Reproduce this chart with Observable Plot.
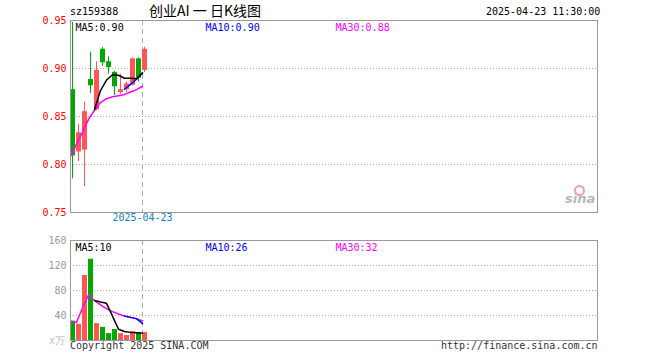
<!DOCTYPE html>
<html><head><meta charset="utf-8">
<script src="https://cdn.jsdelivr.net/npm/d3@7"></script>
<script src="https://cdn.jsdelivr.net/npm/@observablehq/plot@0.6"></script>
<style>
body{margin:0;background:#fff;}
#wrap{position:relative;width:660px;height:360px;overflow:hidden;font-family:"DejaVu Sans Mono",monospace;font-size:10px;background:#fff;}
.abs{position:absolute;white-space:nowrap;line-height:1;}
#main{position:absolute;left:0;top:0;}
#vol{position:absolute;left:0;top:230px;}
</style></head><body><div id="wrap"><div id="main"></div><div id="vol"></div></div>
<script>
// ---- data ----
const code = "sz159388";
const title = "创业AI 一 日K线图";
const stamp = "2025-04-23 11:30:00";
const dateLabel = "2025-04-23";
const dateIndex = 12;
const copyright = "Copyright 2025 SINA.COM";
const url = "http://finance.sina.com.cn";
const volUnit = "x万";

const open  = [0.878, 0.813, 0.815, 0.8885, 0.857, 0.920, 0.907, 0.896, 0.875, 0.878, 0.8826, 0.910, 0.898];
const close = [0.809, 0.833, 0.855, 0.882, 0.898, 0.906, 0.901, 0.881, 0.878, 0.884, 0.910, 0.890, 0.920];
const high  = [0.948, 0.842, 0.865, 0.917, 0.907, 0.922, 0.912, 0.897, 0.894, 0.886, 0.911, 0.911, 0.922];
const low   = [0.785, 0.803, 0.777, 0.874, 0.856, 0.902, 0.894, 0.872, 0.873, 0.875, 0.882, 0.886, 0.896];

const ma5  = [null, null, null, null, 0.857, 0.877, 0.888, 0.8935, 0.893, 0.8898, 0.8898, 0.8893, 0.8955];
const ma10 = [null, null, null, null, null, null, null, null, null, 0.8784, 0.8835, 0.8888, 0.895];
const ma30 = [0.8085, 0.8215, 0.8335, 0.847, 0.8565, 0.8645, 0.8685, 0.8705, 0.8715, 0.873, 0.8755, 0.878, 0.8815];

const volume  = [31, 26, 104, 130, 27, 21, 11, 17.6, 11, 8, 14.4, 12.8, 12.8];
const volMa5  = [null, null, null, null, 64, 61.5, 59.5, 39, 18, 14.5, 13, 12.5, 11.8];
const volMa10 = [null, null, null, null, null, null, null, null, null, 39, 37, 35, 27];
const volMa30 = [30.8, 29, 52, 72.5, 64, 57, 51, 46.2, 42.5, 39.2, 37, 34.6, 31.5];

const priceTicks = [0.75, 0.80, 0.85, 0.90, 0.95];
const priceGrid  = [0.80, 0.85, 0.90];
const volTicks = [40, 80, 120, 160];
const volGrid  = [40, 80, 120];

const mainLegend = ["MA5:0.90", "MA10:0.90", "MA30:0.88"];
const volLegend  = ["MA5:10", "MA10:26", "MA30:32"];

// ---- styles ----
const RED = "#ff5555", GREEN = "#00a800";
const lineColors = ["#000000", "#0000ff", "#ff00ff"];
const W = 660, ML = 70, MR = 63, SLOT = 6, BODY = 5;
const xDomain = [0, (W - ML - MR) / SLOT];
const font = {fontFamily: "DejaVu Sans Mono, monospace", fontSize: "10px", background: "transparent", overflow: "visible"};

const rows = open.map((o, i) => ({i, open: o, close: close[i], high: high[i], low: low[i], vol: volume[i], up: close[i] >= o}));
const series = (arr) => arr.map((v, i) => ({i, v}));
const colorOf = d => d.up ? RED : GREEN;

const legendMarks = (labels) => labels.map((t, k) =>
  Plot.text([t], {text: d => d, frameAnchor: "top-left", textAnchor: "start", dx: 5 + 130 * k, dy: 3, fill: lineColors[k]}));

const main = Plot.plot({
  width: W, height: 230, marginLeft: ML, marginRight: MR, marginTop: 20, marginBottom: 18,
  style: font,
  x: {domain: xDomain, axis: null},
  y: {domain: [0.75, 0.95], axis: null},
  marks: [
    Plot.ruleY(priceGrid, {stroke: "#aaa", strokeDasharray: "1,2"}),
    Plot.ruleX([dateIndex], {stroke: "#aaa", strokeDasharray: "5,4"}),
    Plot.ruleX(rows, {x: d => d.i + 2 / SLOT, y1: "low", y2: "high", stroke: colorOf}),
    Plot.rect(rows, {x1: "i", x2: d => d.i + BODY / SLOT, y1: "open", y2: "close", fill: colorOf}),
    Plot.line(series(ma30), {x: "i", y: "v", stroke: lineColors[2]}),
    Plot.line(series(ma10), {x: "i", y: "v", stroke: lineColors[1]}),
    Plot.line(series(ma5), {x: "i", y: "v", stroke: lineColors[0]}),
    Plot.frame({stroke: "#999"}),
    Plot.axisY(priceTicks, {tickSize: 0, tickPadding: 4, tickFormat: d3.format(".2f"), fill: "#ff0000", label: null}),
    Plot.text([dateLabel], {text: d => d, x: dateIndex, frameAnchor: "bottom", dy: 8, fill: "#1784c7"}),
    ...legendMarks(mainLegend)
  ]
});
document.getElementById("main").append(main);

const vol = Plot.plot({
  width: W, height: 130, marginLeft: ML, marginRight: MR, marginTop: 10, marginBottom: 20,
  style: font,
  x: {domain: xDomain, axis: null},
  y: {domain: [0, 160], axis: null},
  marks: [
    Plot.ruleY(volGrid, {stroke: "#aaa", strokeDasharray: "1,2"}),
    Plot.ruleX([dateIndex], {stroke: "#aaa", strokeDasharray: "5,4"}),
    Plot.rect(rows, {x1: "i", x2: d => d.i + BODY / SLOT, y1: 0, y2: "vol", fill: colorOf}),
    Plot.line(series(volMa30), {x: "i", y: "v", stroke: lineColors[2]}),
    Plot.line(series(volMa10), {x: "i", y: "v", stroke: lineColors[1]}),
    Plot.line(series(volMa5), {x: "i", y: "v", stroke: lineColors[0]}),
    Plot.frame({stroke: "#999"}),
    Plot.axisY(volTicks, {tickSize: 0, tickPadding: 4, fill: "#999", label: null}),
    ...legendMarks(volLegend)
  ]
});
document.getElementById("vol").append(vol);

// ---- surrounding texts ----
const wrap = document.getElementById("wrap");
function addText(txt, css) {
  const d = document.createElement("div");
  d.className = "abs";
  d.textContent = txt;
  Object.assign(d.style, css);
  wrap.append(d);
  return d;
}
addText(code, {left: "70px", top: "7px", color: "#000"});
addText(title, {left: "149px", top: "3px", fontFamily: "'Noto Sans CJK SC', sans-serif", fontSize: "14px", whiteSpace: "pre", color: "#000"});
addText(stamp, {left: "486px", top: "7px", color: "#000"});
addText(volUnit, {left: "49px", top: "336px", color: "#bbb"});
addText(copyright, {left: "70px", top: "341px", color: "#333"});
addText(url, {left: "441px", top: "341px", color: "#333"});
// sina watermark
addText("sina", {left: "565px", top: "192px", fontFamily: "'DejaVu Sans', sans-serif", fontSize: "13px", fontWeight: "bold", fontStyle: "italic", color: "#b8b8b8"});
const eye = document.createElement("div");
eye.className = "abs";
Object.assign(eye.style, {left: "574px", top: "185px", width: "7px", height: "7px", border: "2px solid #f3a0a0", borderRadius: "50%"});
wrap.append(eye);
</script></body></html>
